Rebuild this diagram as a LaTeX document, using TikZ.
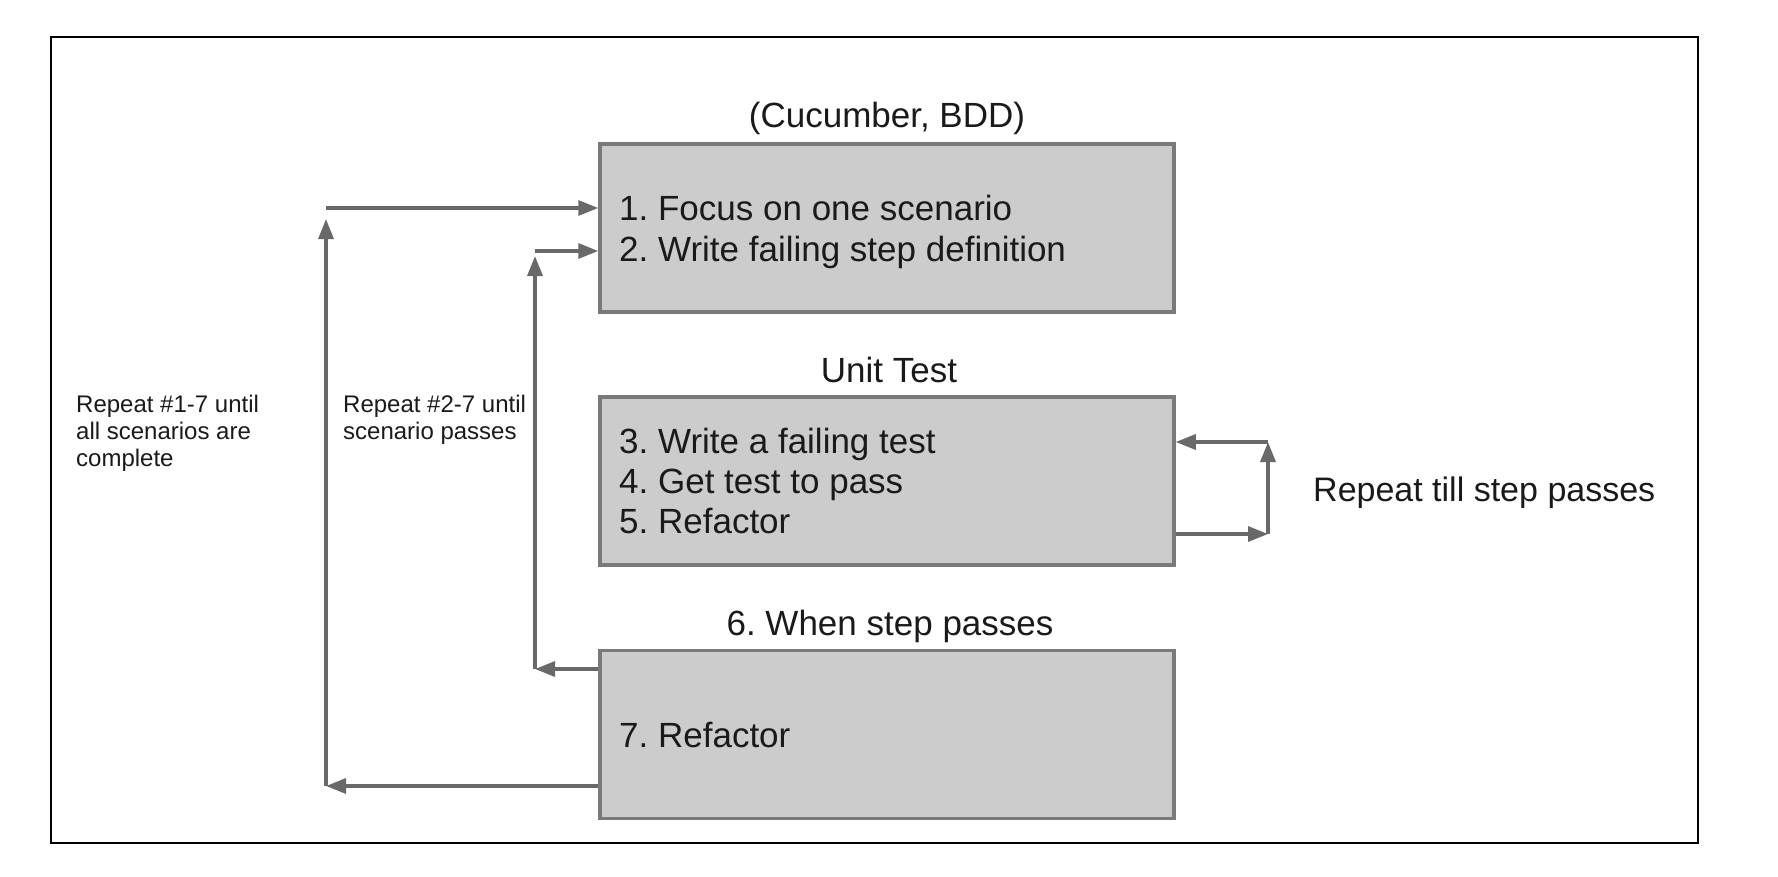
\documentclass[tikz,border=0pt]{standalone}
\usepackage{fontspec}
\setmainfont{Liberation Sans}
\usetikzlibrary{arrows.meta}
\definecolor{boxfill}{HTML}{CCCCCC}
\definecolor{boxline}{HTML}{7A7A7A}
\definecolor{arrowc}{HTML}{696969}
\definecolor{txtc}{HTML}{1A1A1A}
\frenchspacing
\begin{document}
\begin{tikzpicture}[x=1pt,y=-1pt,
  stepbox/.style={draw=boxline,line width=3.5pt,fill=boxfill,minimum width=574pt,minimum height=168pt,inner sep=0pt},
  boxtxt/.style={font=\fontsize{35}{41}\selectfont,inner sep=0pt,anchor=base west,text=txtc},
  heading/.style={font=\fontsize{35}{41}\selectfont,inner sep=0pt,anchor=base,text=txtc},
  smalltxt/.style={font=\fontsize{24}{27}\selectfont,inner sep=0pt,align=left,anchor=north west,text=txtc},
  arr/.style={draw=arrowc,line width=3.3pt,-{Triangle[length=20pt,width=15pt]}}]
\useasboundingbox (0,0) rectangle (1778,876);
\draw[line width=2pt] (51,37) rectangle (1698,843);

\node[stepbox] (box1) at (887,228) {};
\node[stepbox] (box2) at (887,481) {};
\node[stepbox] (box3) at (887,734.5) {};

\node[boxtxt] (s1) at (619,220) {1. Focus on one scenario};
\node[boxtxt] (s2) at (619,261) {2. Write failing step definition};
\node[boxtxt] (s3) at (619,453) {3. Write a failing test};
\node[boxtxt] (s4) at (619,493) {4. Get test to pass};
\node[boxtxt] (s5) at (619,533) {5. Refactor};
\node[boxtxt] (s7) at (619,747) {7. Refactor};

\node[heading] (h1) at (887,127) {(Cucumber, BDD)};
\node[heading] (h2) at (889,382) {Unit Test};
\node[heading] (h3) at (890,635) {6. When step passes};

\node[smalltxt] (t1) at (76,395) {Repeat \#1-7 until\\all scenarios are\\complete};
\node[smalltxt] (t2) at (343,395) {Repeat \#2-7 until\\scenario passes};
\node[heading,anchor=base west,font=\fontsize{34}{40}\selectfont] (t3) at (1313,501) {Repeat till step passes};

% outer loop
\coordinate (l1) at (326,208);
\coordinate (l2) at (326,786);
\coordinate (lt) at (326,219);
\draw[arr] (l2 -| box3.west) -- (l2);
\draw[arr] (l2) -- (lt);
\draw[arr] (l1) -- (l1 -| box1.west);

% middle loop
\coordinate (m1) at (535,251);
\coordinate (m2) at (535,669);
\coordinate (mt) at (535,256);
\draw[arr] (m2 -| box3.west) -- (m2);
\draw[arr] (m2) -- (mt);
\draw[arr] (m1) -- (m1 -| box1.west);

% right loop
\coordinate (r1) at (1268,442);
\coordinate (r2) at (1268,534);
\draw[arr] (r2 -| box2.east) -- (r2);
\draw[arr] (r2) -- (r1);
\draw[arr] (r1) -- (r1 -| box2.east);
\end{tikzpicture}
\end{document}
